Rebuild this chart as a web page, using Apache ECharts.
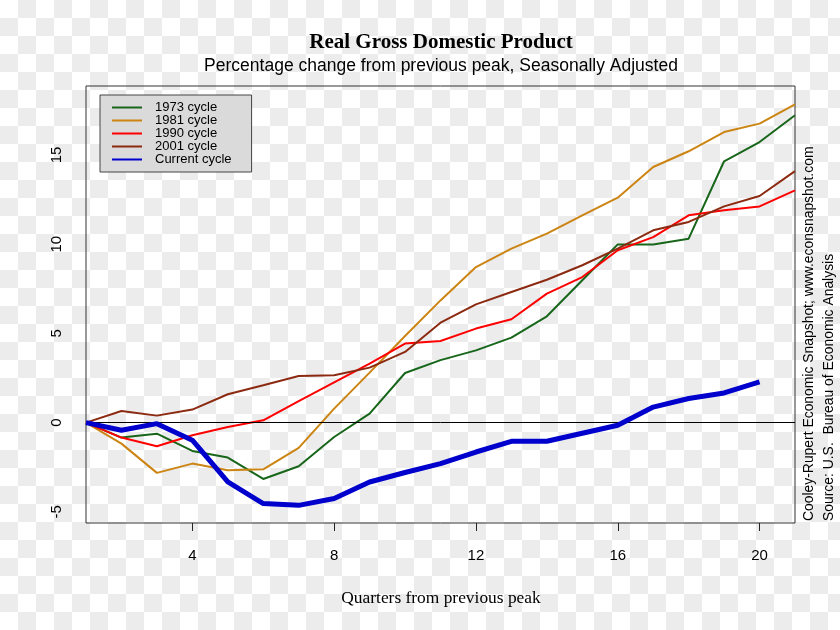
<!DOCTYPE html>
<html>
<head>
<meta charset="utf-8">
<script src="https://cdn.jsdelivr.net/npm/echarts@6/dist/echarts.min.js"></script>
<style>
html,body{margin:0;padding:0;}
body{background:repeating-conic-gradient(#ececec 0 25%, #ffffff 0 50%) 0 0/36px 36px;}
#chart{width:840px;height:630px;}
</style>
</head>
<body>
<div id="chart"></div>
<script>
const quarters = [1,2,3,4,5,6,7,8,9,10,11,12,13,14,15,16,17,18,19,20,21];
const cycle1973 = [0,-0.84,-0.62,-1.59,-1.96,-3.16,-2.45,-0.81,0.5,2.78,3.5,4.05,4.76,5.96,7.98,9.99,9.98,10.31,14.65,15.73,17.23];
const cycle1981 = [0,-1.18,-2.82,-2.3,-2.67,-2.62,-1.42,0.78,2.8,4.85,6.85,8.72,9.75,10.59,11.62,12.61,14.33,15.21,16.29,16.76,17.84];
const cycle1990 = [0,-0.84,-1.33,-0.71,-0.25,0.13,1.2,2.25,3.3,4.43,4.57,5.27,5.79,7.23,8.16,9.66,10.4,11.62,11.9,12.12,13.02];
const cycle2001 = [0,0.65,0.39,0.73,1.59,2.09,2.61,2.65,3.08,3.96,5.6,6.63,7.32,8.01,8.82,9.75,10.78,11.25,12.12,12.7,14.1];
const currentCycle = [0,-0.43,-0.06,-0.99,-3.33,-4.54,-4.64,-4.26,-3.33,-2.8,-2.3,-1.65,-1.05,-1.05,-0.6,-0.15,0.87,1.35,1.66,2.28];
const seriesNames = ['1973 cycle','1981 cycle','1990 cycle','2001 cycle','Current cycle'];
const xTicks = [4,8,12,16,20];
const yTicks = [-5,0,5,10,15];

const colors = ['#17661a','#cc8412','#ff0000','#8b2a10','#0000cd'];
const widths = [2,2,2,2,5];
const allData = [cycle1973,cycle1981,cycle1990,cycle2001,currentCycle];

const sans = '"Liberation Sans", Arial, sans-serif';
const serif = '"Liberation Serif", "Times New Roman", serif';

const chart = echarts.init(document.getElementById('chart'), null, {renderer:'canvas'});
const series = allData.map((arr,i)=>{
  const s = {
    name: seriesNames[i],
    type: 'line',
    data: arr.map((v,j)=>[quarters[j], v]),
    symbol: 'none',
    lineStyle: {color: colors[i], width: widths[i]},
    itemStyle: {color: colors[i]},
    z: 2 + i,
    animation: false
  };
  if (i === 0) {
    s.markLine = {
      silent: true,
      symbol: ['none','none'],
      label: {show:false},
      lineStyle: {color:'#000', width:1, type:'solid'},
      data: [{yAxis: 0}],
      animation: false
    };
  }
  return s;
});

chart.setOption({
  backgroundColor: 'transparent',
  animation: false,
  grid: {left: 86, right: 45, top: 86, bottom: 107, show: true, borderColor: '#333', borderWidth: 1, backgroundColor: 'transparent'},
  xAxis: {
    type: 'value', min: 1, max: 21,
    axisLine: {show:false, onZero:false},
    splitLine: {show:false},
    axisTick: {show:true, customValues: xTicks, length: 8, inside:false, lineStyle:{color:'#222'}},
    axisLabel: {customValues: xTicks, color:'#000', fontFamily: sans, fontSize: 15, margin: 25}
  },
  yAxis: {
    type: 'value', min: -5.63, max: 18.87,
    axisLine: {show:false, onZero:false},
    splitLine: {show:false},
    axisTick: {show:false},
    axisLabel: {customValues: yTicks, rotate: 90, color:'#000', fontFamily: sans, fontSize: 15, margin: 22}
  },
  legend: {
    orient: 'vertical', left: 100, top: 95,
    data: seriesNames.map(n=>({name:n, icon:'rect'})),
    itemWidth: 30, itemHeight: 2, itemGap: 0,
    backgroundColor: '#dadada', borderColor: '#444', borderWidth: 1,
    padding: [6, 20, 6, 12],
    textStyle: {fontFamily: sans, fontSize: 13, color:'#000', lineHeight: 12.8, padding:[0,0,0,8]},
    selectedMode: false
  },
  graphic: [
    {type:'text', x: 441, y: 43, style:{text:'Real Gross Domestic Product', font:'bold 21px ' + serif, fill:'#000', textAlign:'center', textVerticalAlign:'middle'}},
    {type:'text', x: 441, y: 66, style:{text:'Percentage change from previous peak, Seasonally Adjusted', font:'17.5px ' + sans, fill:'#000', textAlign:'center', textVerticalAlign:'middle'}},
    {type:'text', x: 441, y: 598, style:{text:'Quarters from previous peak', font:'17.4px ' + serif, fill:'#000', textAlign:'center', textVerticalAlign:'middle'}},
    {type:'text', x: 809, y: 521, rotation: Math.PI/2, style:{text:'Cooley-Rupert Economic Snapshot; www.econsnapshot.com', font:'13.9px ' + sans, fill:'#000', textAlign:'left', textVerticalAlign:'middle'}},
    {type:'text', x: 829, y: 521, rotation: Math.PI/2, style:{text:'Source: U.S.  Bureau of Economic Analysis', font:'13.9px ' + sans, fill:'#000', textAlign:'left', textVerticalAlign:'middle'}}
  ],
  series: series
});
</script>
</body>
</html>
